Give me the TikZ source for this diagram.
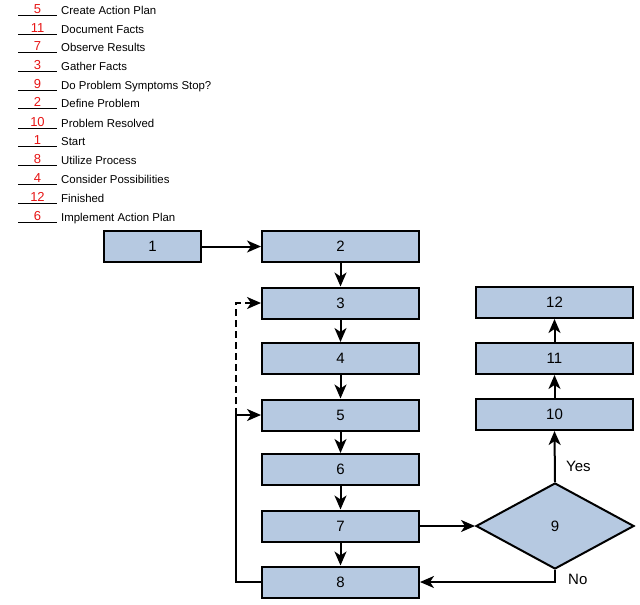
\documentclass[tikz,border=0pt]{standalone}
\usepackage{fontspec}
\setmainfont{Liberation Sans}
\usetikzlibrary{shapes.geometric,arrows.meta}
\definecolor{boxfill}{RGB}{182,201,225}
\definecolor{numred}{RGB}{230,20,20}
\tikzset{
  stepbox/.style={draw=black,fill=boxfill,line width=2pt,minimum width=157pt,minimum height=31pt,inner sep=0pt,font=\fontsize{15}{15}\selectfont},
  decbox/.style={draw=black,fill=boxfill,line width=2pt,diamond,minimum width=158pt,minimum height=86pt,inner sep=0pt,font=\fontsize{15}{15}\selectfont},
  flow/.style={line width=2pt,-{Stealth[length=14pt,width=12pt,inset=4pt]}},
  legtext/.style={anchor=base west,inner sep=0pt,font=\fontsize{11.4}{12}\selectfont},
  legnum/.style={anchor=base,inner sep=0pt,text=numred,font=\fontsize{13}{12}\selectfont},
  lbl/.style={anchor=west,inner sep=0pt,font=\fontsize{15}{15}\selectfont}
}
\begin{document}
\begin{tikzpicture}[x=1pt,y=-1pt]
\useasboundingbox (0,0) rectangle (640,605);
% legend
\foreach \b/\n/\t [count=\i] in {14.5/5/Create Action Plan,33/11/Document Facts,51.5/7/Observe Results,70.5/3/Gather Facts,89.5/9/Do Problem Symptoms Stop?,107.5/2/Define Problem,127.5/10/Problem Resolved,145.5/1/Start,164.5/8/Utilize Process,183.5/4/Consider Possibilities,202.5/12/Finished,221.5/6/Implement Action Plan}{
  \draw[line width=0.7pt] (18,\b+1) -- (57,\b+1);
  \node[legnum] (ln\i) at (37.5,\b-1) {\n};
  \node[legtext] (lt\i) at (61,\b) {\t};
}
% boxes
\node[stepbox,minimum width=97pt] (n1) at (152.5,246.5) {1};
\node[stepbox] (n2) at (340.5,246.5) {2};
\node[stepbox] (n3) at (340.5,303) {3};
\node[stepbox] (n4) at (340.5,358.5) {4};
\node[stepbox] (n5) at (340.5,415) {5};
\node[stepbox] (n6) at (340.5,469.5) {6};
\node[stepbox] (n7) at (340.5,526) {7};
\node[stepbox] (n8) at (340.5,582) {8};
\node[decbox] (n9) at (555,526) {9};
\node[stepbox] (n10) at (554.5,414.5) {10};
\node[stepbox] (n11) at (554.5,358.5) {11};
\node[stepbox] (n12) at (554.5,302.5) {12};
% connectors
\draw[flow] (n1) -- (n2);
\draw[flow] (n2) -- (n3);
\draw[flow] (n3) -- (n4);
\draw[flow] (n4) -- (n5);
\draw[flow] (n5) -- (n6);
\draw[flow] (n6) -- (n7);
\draw[flow] (n7) -- (n8);
\draw[flow] (n7) -- (n9);
\draw[flow] (n9.north) -- (n10.south);
\draw[flow] (n10) -- (n11);
\draw[flow] (n11) -- (n12);
\draw[flow] (n9.south) |- (n8.east);
\coordinate (fb) at (236,415);
\draw[flow] (n8.west) -| (fb) -- (n5.west);
\draw[flow,dash pattern=on 7pt off 4pt] (fb) |- (n3.west);
\node[lbl] (yes) at (566,466) {Yes};
\node[lbl] (no) at (568,579) {No};
\end{tikzpicture}
\end{document}
